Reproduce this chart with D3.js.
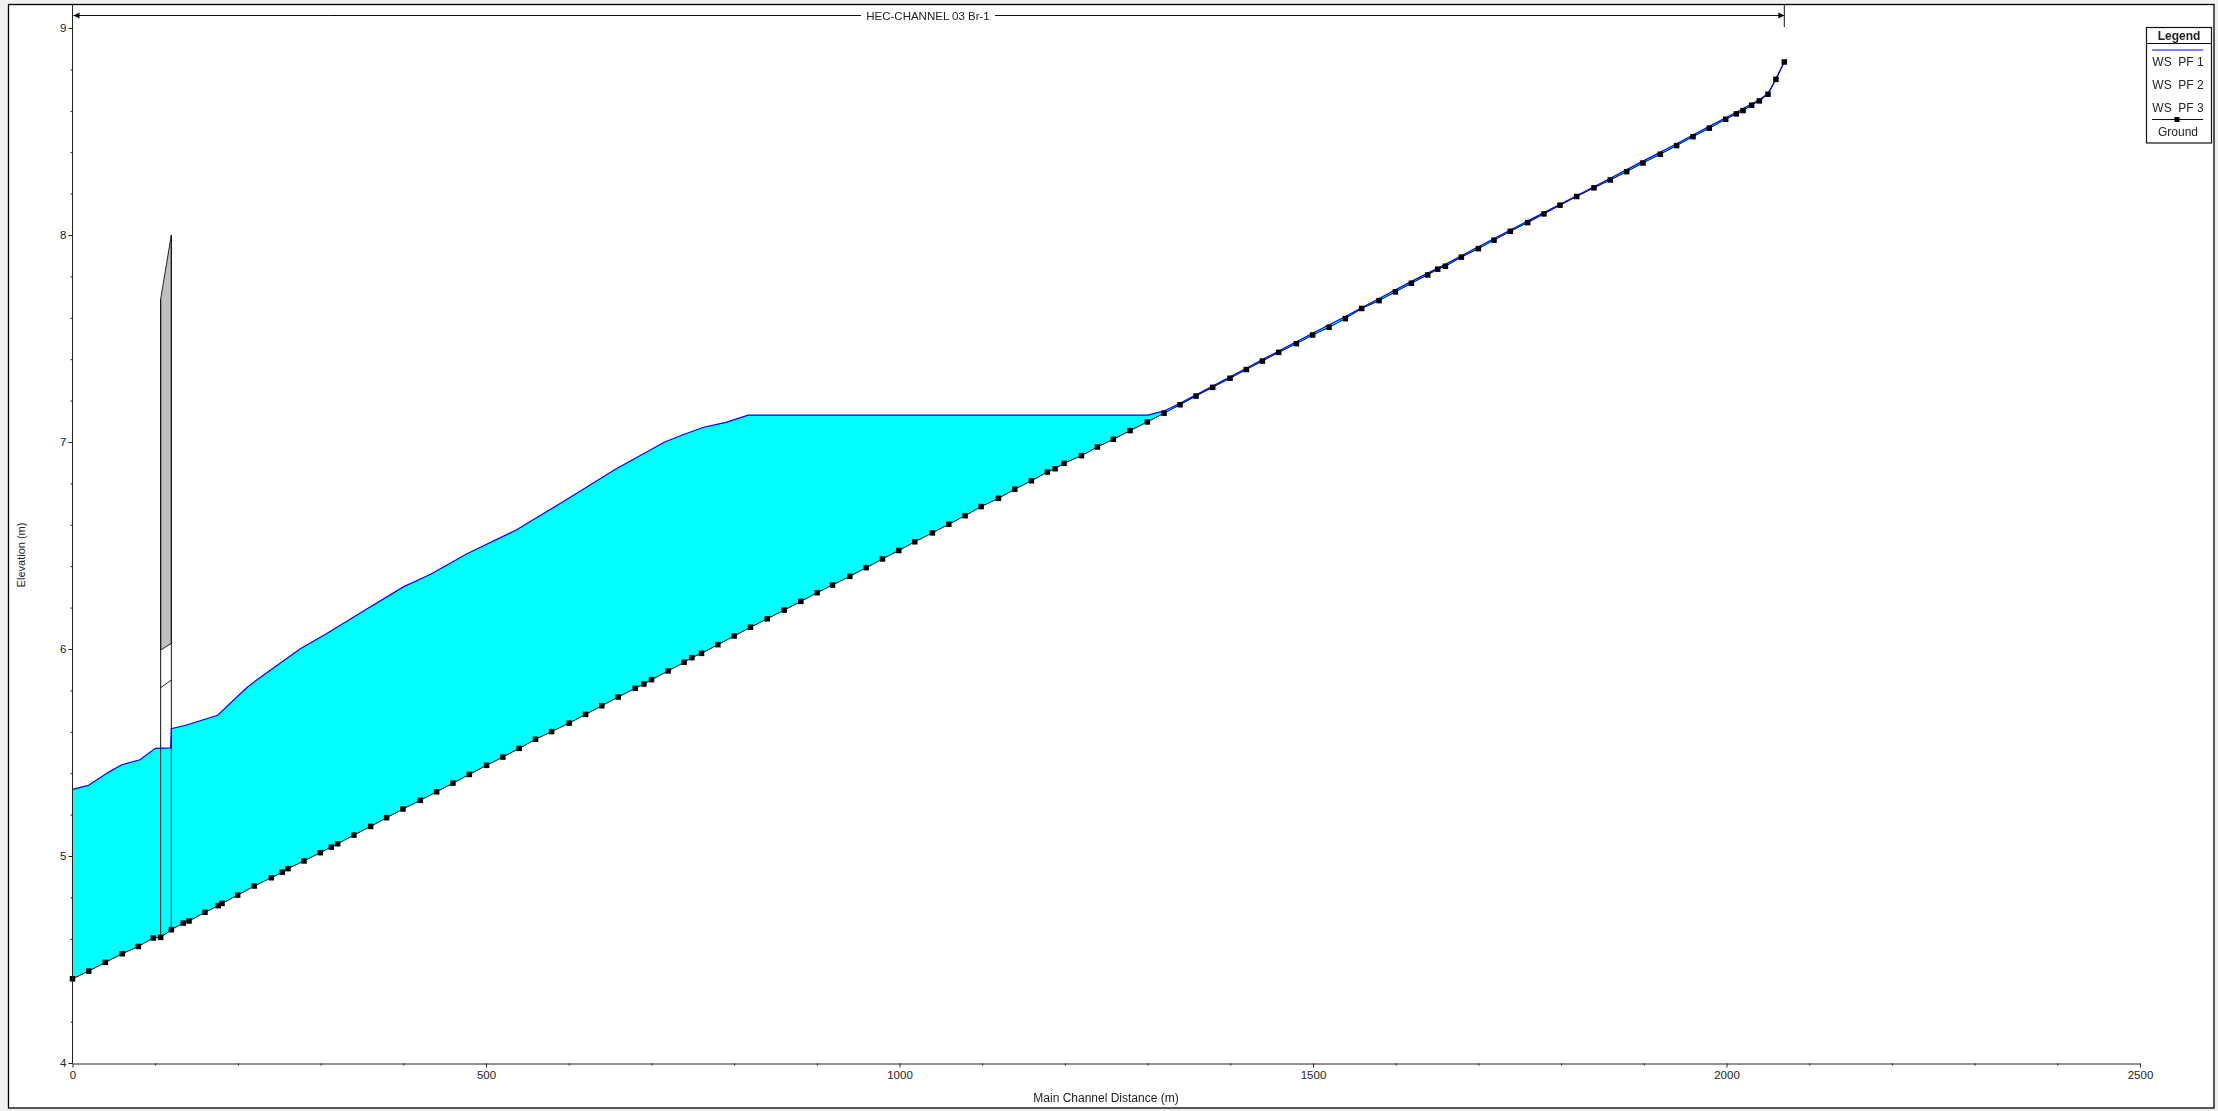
<!DOCTYPE html>
<html><head><meta charset="utf-8">
<script src="https://cdn.jsdelivr.net/npm/d3@7/dist/d3.min.js"></script>
<style>
html,body{margin:0;padding:0;background:#f0f0f0;overflow:hidden}
svg{display:block;filter:blur(0.35px)}
text{font-family:"Liberation Sans",Arial,sans-serif;fill:#222}
</style></head><body><svg id="c" width="2218" height="1111"></svg>
<script>
const groundX=[0,19.6,39.7,60.3,79.6,97.7,106.6,119.5,134,140.9,160.2,176.3,180.8,199.7,219.8,240.4,253.7,260.6,279.9,299.6,313,320.6,340.3,360.5,379.8,399.6,420.5,440.3,460,479.8,500.7,
520.4,540.2,559.9,579.3,600.6,620.4,640.1,659.9,680.4,690.9,700.2,720.3,739.6,748.9,760.6,780.4,800.1,819.8,840,860.6,880.7,900.4,919,939.9,959.7,979.4,999.2,1018.5,
1039.8,1059.6,1079.3,1098.7,1119.6,1139.4,1159.5,1178.8,1188.1,1199,1220,1239.3,1258.6,1278.8,1299.7,1319.9,1339.2,1358.6,1378.7,1399.7,1419.4,1438.8,1458.5,1479.9,1499.6,1519.4,1539.1,
1558.9,1579.9,1599.6,1619,1638.7,1650.8,1660.1,1679.4,1700,1718.9,1738.6,1759.6,1779.3,1798.7,1818.8,1839.8,1859.5,1879.3,1899,1920,1939.7,1959.5,1979.2,1999,2011.9,2020,2030.4,2039.7,2050.2,2059.8,2069.9];
const groundY=[4.407,4.444,4.486,4.528,4.563,4.604,4.607,4.644,4.676,4.686,4.728,4.76,4.771,4.811,4.855,4.895,4.922,4.939,4.976,5.016,5.043,5.059,5.101,5.143,5.185,5.227,5.269,5.31,5.352,5.394,5.438,
5.478,5.52,5.564,5.601,5.642,5.684,5.726,5.768,5.81,5.831,5.852,5.894,5.936,5.958,5.979,6.021,6.063,6.105,6.146,6.188,6.23,6.272,6.309,6.351,6.393,6.435,6.476,6.518,
6.561,6.603,6.644,6.688,6.728,6.772,6.813,6.855,6.871,6.897,6.934,6.976,7.013,7.055,7.097,7.139,7.18,7.222,7.264,7.308,7.35,7.391,7.433,7.475,7.517,7.554,7.596,
7.645,7.683,7.725,7.767,7.807,7.835,7.849,7.893,7.934,7.975,8.018,8.06,8.102,8.144,8.186,8.228,8.266,8.306,8.348,8.39,8.432,8.475,8.516,8.559,8.585,8.601,8.627,8.648,8.68,8.752,8.836];
const wsX=[0,19.1,43.3,59.5,81.6,100.1,118.7,119.5,138,175.5,210.6,222.7,275,307.5,348.4,400,433.6,477,536.6,596.6,656,716,735,762,790,817,1300,1320,1339.2,1378.7,1419.4,1458.5,1499.6,1539.1,1579.9,1619,1660.1,1700,1738.6,1779.3,1818.8,1859.5,1899,1939.7,1979.2,2011.9,2039.7,2050.2,2059.8,2069.9];
const wsY=[5.322,5.341,5.404,5.441,5.465,5.52,5.522,5.615,5.633,5.68,5.813,5.85,6.0,6.075,6.175,6.3,6.362,6.46,6.575,6.72,6.867,7.0,7.03,7.07,7.095,7.13,7.13,7.15,7.187,7.27,7.356,7.44,7.525,7.606,7.693,7.776,7.858,7.943,8.024,8.108,8.19,8.274,8.357,8.441,8.525,8.593,8.653,8.684,8.755,8.838];
const bridgeX=[106.6,119.5];
const bridgeTop=[7.69,8.0];
const bridgeHigh=[5.995,6.027];
const bridgeLow=[5.813,5.85];
const bridgeFoot=[4.607,4.644];
const xMajor=[0,500,1000,1500,2000,2500];
const xMinor=[100,200,300,400,600,700,800,900,1100,1200,1300,1400,1600,1700,1800,1900,2100,2200,2300,2400];
const yMajor=[4,5,6,7,8,9];
const yMinor=[4.2,4.4,4.6,4.8,5.2,5.4,5.6,5.8,6.2,6.4,6.6,6.8,7.2,7.4,7.6,7.8,8.2,8.4,8.6,8.8];
const legendTitle="Legend";
const legendLabels=["WS  PF 1","WS  PF 2","WS  PF 3","Ground"];
const reachLabel="HEC-CHANNEL 03 Br-1";
const xTitle="Main Channel Distance (m)";
const yTitle="Elevation (m)";

const X=d3.scaleLinear([0,2500],[72.5,2140]);
const Y=d3.scaleLinear([4,9],[1063,28]);
const svg=d3.select("#c");
svg.append("rect").attr("x",8.5).attr("y",4.5).attr("width",2205.5).attr("height",1103.5).attr("fill","#fff").attr("stroke","#000").attr("stroke-width",1.3);

const ground=groundX.map((x,i)=>[x,groundY[i]]);
const ws=wsX.map((x,i)=>[x,wsY[i]]);
const ln=d3.line().x(d=>X(d[0])).y(d=>Y(d[1]));
svg.append("path").attr("d",ln(ws.concat(ground.slice().reverse()))+"Z").attr("fill","#00ffff");

// bridge
const b=svg.append("g");
b.append("path").attr("d",ln([[bridgeX[0],bridgeHigh[0]],[bridgeX[0],bridgeTop[0]],[bridgeX[1],bridgeTop[1]],[bridgeX[1],bridgeHigh[1]]])+"Z")
 .attr("fill","#c0c0c0").attr("stroke","#222").attr("stroke-width",1);
b.append("path").attr("d",ln([[bridgeX[0],bridgeLow[0]],[bridgeX[1],bridgeLow[1]]])).attr("fill","none").attr("stroke","#222").attr("stroke-width",1);

// ground line, then water surface over it
svg.append("path").attr("d",ln(ground)).attr("fill","none").attr("stroke","#000").attr("stroke-width",1);
svg.append("path").attr("d",ln(ws)).attr("fill","none").attr("stroke","#0000ff").attr("stroke-width",1.2);
[0,1].forEach(i=>b.append("path").attr("d",ln([[bridgeX[i],bridgeFoot[i]],[bridgeX[i],bridgeTop[i]]])).attr("fill","none").attr("stroke","#111").attr("stroke-width",1));
svg.append("g").selectAll("rect").data(ground).join("rect")
 .attr("x",d=>X(d[0])-2.75).attr("y",d=>Y(d[1])-2.75).attr("width",5.5).attr("height",5.5).attr("fill","#000");

// axes
function style(g){g.selectAll("path,line").attr("stroke","#222").attr("stroke-width",1);g.selectAll("text").attr("font-size",11.5).attr("fill","#333").attr("font-family",'"Liberation Sans",Arial,sans-serif');}
const H=1063.5,L=72.5;
svg.append("g").attr("transform",`translate(0,${H})`).call(d3.axisBottom(X).tickValues(xMajor).tickFormat(d3.format("d")).tickSize(4).tickPadding(3).tickSizeOuter(0)).call(style);
svg.append("g").attr("transform",`translate(0,${H})`).call(d3.axisBottom(X).tickValues(xMinor).tickFormat("").tickSize(2).tickSizeOuter(0)).call(style).select(".domain").remove();
svg.append("g").attr("transform",`translate(${L},0)`).call(d3.axisLeft(Y).tickValues(yMajor).tickFormat(d3.format("d")).tickSize(4).tickPadding(2).tickSizeOuter(0)).call(style).select(".domain").remove();
svg.append("g").attr("transform",`translate(${L},0)`).call(d3.axisLeft(Y).tickValues(yMinor).tickFormat("").tickSize(2).tickSizeOuter(0)).call(style).select(".domain").remove();
svg.append("line").attr("x1",L).attr("x2",L).attr("y1",4.5).attr("y2",H).attr("stroke","#222").attr("stroke-width",1);

svg.append("text").attr("x",1106).attr("y",1102).attr("text-anchor","middle").attr("font-size",12).text(xTitle);
svg.append("text").attr("transform","translate(25,555) rotate(-90)").attr("text-anchor","middle").attr("font-size",11).text(yTitle);

// reach bracket
const rx0=X(0)+1,rx1=X(groundX[groundX.length-1]),ry=15.5,cx=928;
svg.append("line").attr("x1",rx0).attr("x2",cx-67).attr("y1",ry).attr("y2",ry).attr("stroke","#111");
svg.append("line").attr("x1",cx+67).attr("x2",rx1).attr("y1",ry).attr("y2",ry).attr("stroke","#111");
svg.append("line").attr("x1",rx1).attr("x2",rx1).attr("y1",5).attr("y2",27).attr("stroke","#111");
svg.append("path").attr("d",`M${rx0},${ry}l6,-3v6Z`).attr("fill","#000");
svg.append("path").attr("d",`M${rx1},${ry}l-6,-3v6Z`).attr("fill","#000");
svg.append("text").attr("x",cx).attr("y",ry+4).attr("text-anchor","middle").attr("font-size",11.5).text(reachLabel);

// legend
const lg=svg.append("g");
lg.append("rect").attr("x",2146.5).attr("y",27.5).attr("width",65).attr("height",115.5).attr("fill","#fff").attr("stroke","#111").attr("stroke-width",1.2);
lg.append("line").attr("x1",2146.5).attr("x2",2211.5).attr("y1",43.5).attr("y2",43.5).attr("stroke","#111");
lg.append("text").attr("x",2179).attr("y",39.5).attr("text-anchor","middle").attr("font-size",12).attr("font-weight","bold").attr("fill","#333").text(legendTitle);
lg.append("line").attr("x1",2152).attr("x2",2203).attr("y1",50).attr("y2",50).attr("stroke","#0000ff").attr("stroke-width",1.2);
const ly=[66,89,112,135.5];
lg.selectAll("text.l").data(legendLabels).join("text").attr("class","l").attr("x",2178).attr("y",(d,i)=>ly[i]).attr("text-anchor","middle").attr("font-size",12).attr("xml:space","preserve").style("white-space","pre").text(d=>d);
lg.append("line").attr("x1",2152).attr("x2",2203).attr("y1",119.5).attr("y2",119.5).attr("stroke","#111");
lg.append("rect").attr("x",2174.5).attr("y",117).attr("width",5).attr("height",5).attr("fill","#000");
</script></body></html>
